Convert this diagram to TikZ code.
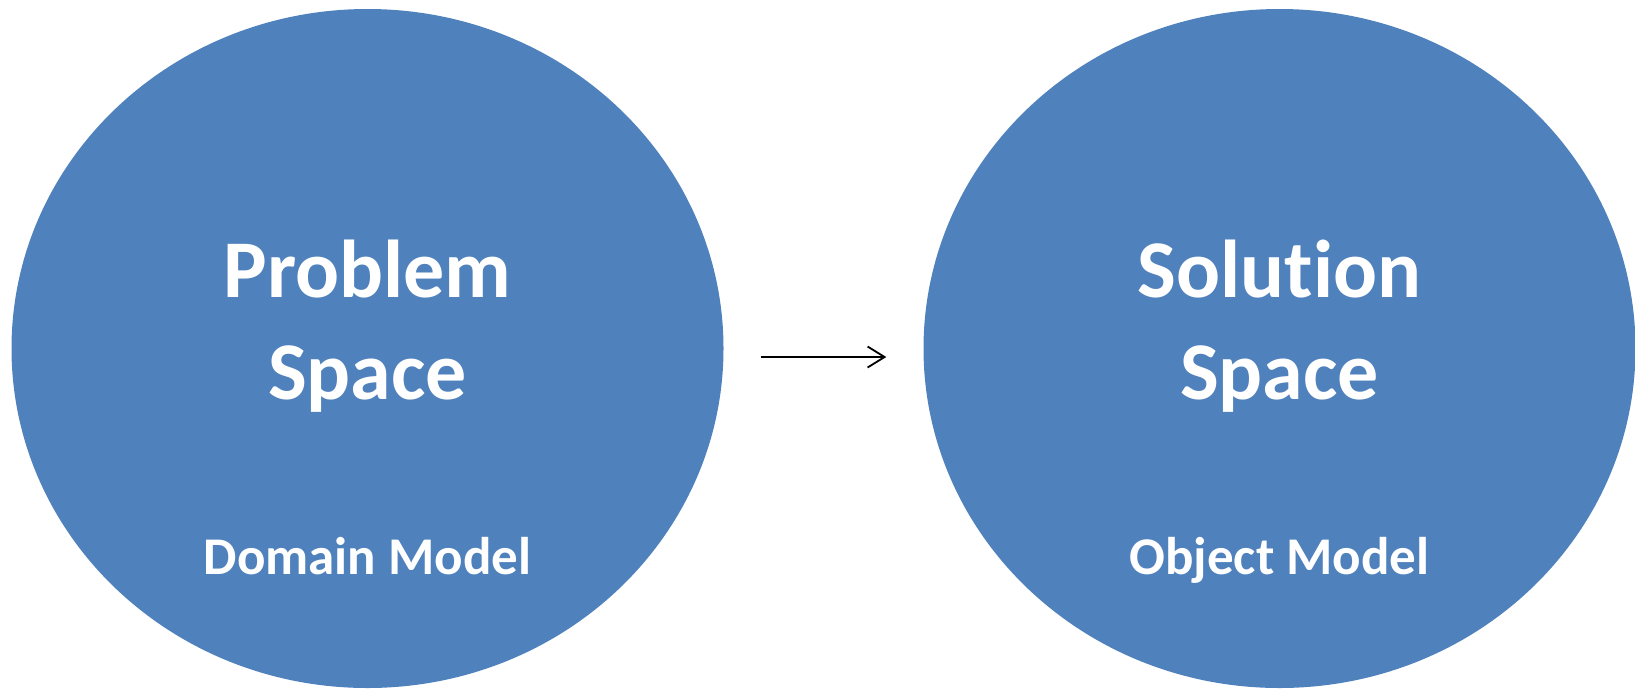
\documentclass[tikz,border=0pt]{standalone}
\usepackage{fontspec}
\setmainfont[Ligatures={NoCommon,NoRequired,NoContextual,NoRare,NoDiscretionary}]{Carlito}
\usetikzlibrary{shapes.geometric,arrows.meta}
\definecolor{blobblue}{HTML}{4F81BD}
\begin{document}
\begin{tikzpicture}[x=1pt,y=-1pt,
  spacebox/.style={ellipse, fill=blobblue, draw=none, inner sep=0pt, minimum width=712pt, minimum height=679pt},
  bigtext/.style={text=white, font=\bfseries\fontsize{82}{102}\selectfont, anchor=base, inner sep=0pt},
  smalltext/.style={text=white, font=\bfseries\fontsize{53}{64}\selectfont, anchor=base, inner sep=0pt},
  flow/.style={-{Straight Barb[length=17pt,width=21pt]}, line width=1.8pt, black}]
\useasboundingbox (0,0) rectangle (1635,689);
\node[spacebox] (left) at (367.5,348.5) {};
\node[spacebox] (right) at (1279.5,348.5) {};
\node[bigtext] (p1) at (367.5,297) {Problem};
\node[bigtext] (p2) at (367.5,399) {Space};
\node[smalltext] (p3) at (367.5,574) {Domain Model};
\node[bigtext] (s1) at (1279.5,297) {Solution};
\node[bigtext] (s2) at (1279.5,399) {Space};
\node[smalltext] (s3) at (1279.5,574) {Object Model};
\draw[flow, shorten <=37pt, shorten >=37pt] ([yshift=-8.5pt]left.east) -- ([yshift=-8.5pt]right.west);
\end{tikzpicture}
\end{document}
